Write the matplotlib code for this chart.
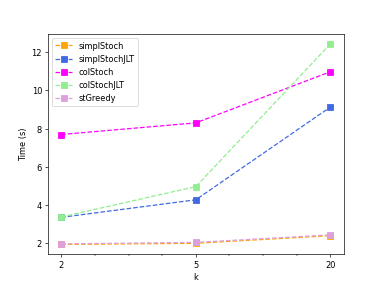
import matplotlib.pyplot as plt
from matplotlib.ticker import AutoMinorLocator

# k values (shown as evenly spaced categories)
k_labels = ["2", "5", "20"]
k_pos = [0, 1, 2]

simplStoch = [1.93, 1.99, 2.39]
simplStochJLT = [3.35, 4.27, 9.13]
colStoch = [7.69, 8.30, 10.98]
colStochJLT = [3.37, 4.96, 12.44]
stGreedy = [1.96, 2.04, 2.43]

series = [
    ("simplStoch", simplStoch, "orange"),
    ("simplStochJLT", simplStochJLT, "royalblue"),
    ("colStoch", colStoch, "magenta"),
    ("colStochJLT", colStochJLT, "lightgreen"),
    ("stGreedy", stGreedy, "plum"),
]

fig, ax = plt.subplots(figsize=(6.4, 4.8), dpi=59.7)

for name, vals, col in series:
    ax.plot(k_pos, vals, linestyle="--", marker="s", markersize=7,
            color=col, label=name)

ax.set_xticks(k_pos)
ax.set_xticklabels(k_labels)
ax.xaxis.set_minor_locator(AutoMinorLocator(4))
ax.set_xlabel("k")
ax.set_ylabel("Time (s)")
ax.legend(loc="upper left")

plt.savefig("out.png")
